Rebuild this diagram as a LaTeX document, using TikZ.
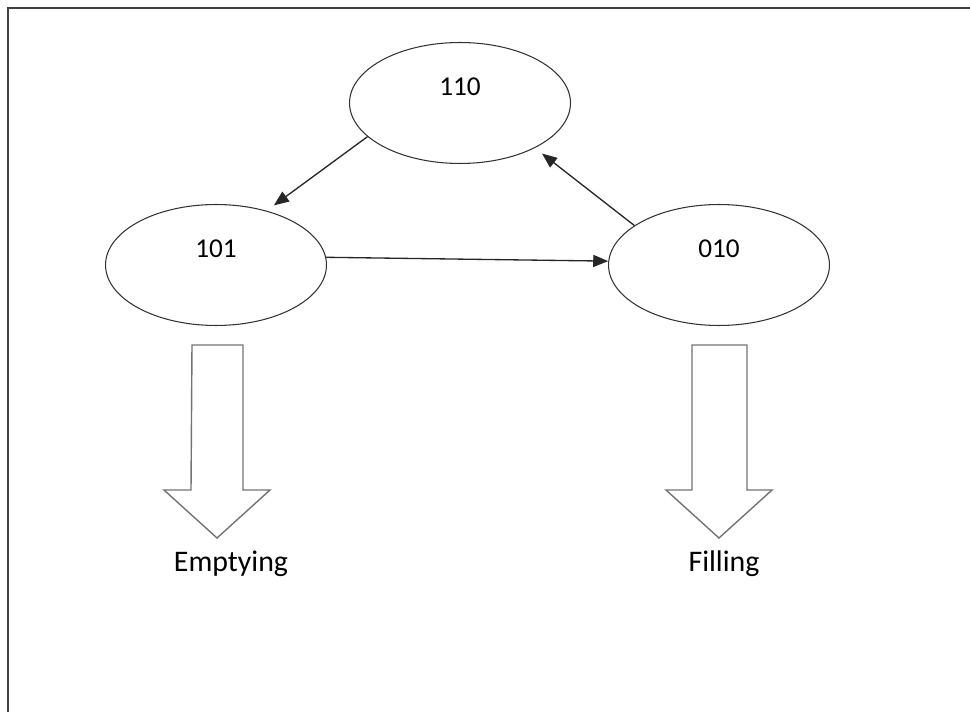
\documentclass[tikz,border=0pt]{standalone}
\usepackage{fontspec}
\setmainfont{Carlito}
\usetikzlibrary{arrows.meta, positioning, calc, shapes.geometric}

\begin{document}
\begin{tikzpicture}[
      x=0.02cm, y=-0.02cm,
      state/.style={ellipse, draw=black!80, line width=0.6pt, minimum width=4.42cm, minimum height=2.42cm, inner sep=0pt},
      arrow/.style={-{Triangle[length=0.3cm, width=0.24cm]}, line width=0.75pt, black!85},
      bigarrow/.style={draw=black!55, line width=0.8pt, line join=miter},
      txt/.style={font=\fontsize{15.5}{18}\selectfont, inner sep=0pt},
      lbl/.style={font=\fontsize{17}{20}\selectfont, inner sep=0pt}
    ]
    \useasboundingbox (0,0) rectangle (970,712);
    \draw[black!75, line width=1.1pt] (8,712) -- (8,8) -- (970,8);

    \node[state, label={[txt, yshift=0.33cm]center:110}] (s110) at (460,103) {};
    \node[state, label={[txt, yshift=0.33cm]center:101}] (s101) at (216,265) {};
    \node[state, label={[txt, yshift=0.33cm]center:010}] (s010) at (719,265) {};

    \draw[arrow, shorten >= 0.18cm] (s110.200) -- (s101.47);
    \draw[arrow] (s101.4) -- (s010.178);
    \draw[arrow, shorten >= 0.18cm] (s010.155) -- (s110.-31);

    % output arrows
    \draw[bigarrow] ($(s101.south)+(-24,19)$) -- ++(51,0) -- ++(0,145) -- ++(27,0)
      -- ++(-53,48) -- ++(-53,-48) -- ++(27,0) -- cycle;
    \node[lbl, anchor=base] (empty) at (231,571) {Emptying};

    \draw[bigarrow] ($(s010.south)+(-27,19)$) -- ++(55,0) -- ++(0,145) -- ++(25,0)
      -- ++(-53,48) -- ++(-53,-48) -- ++(26,0) -- cycle;
    \node[lbl, anchor=base] (fill) at (724,571) {Filling};
  \end{tikzpicture}
\end{document}
